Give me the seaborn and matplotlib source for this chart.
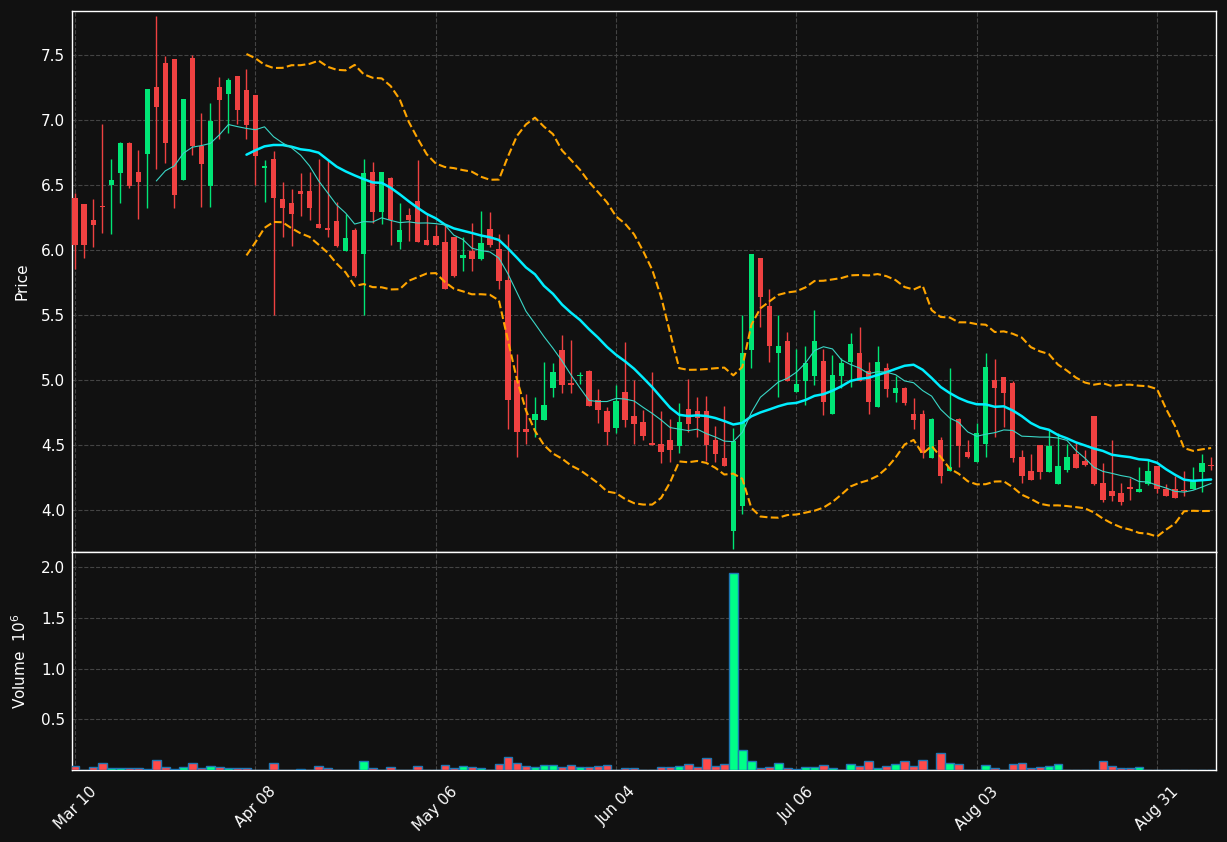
import numpy as np
import pandas as pd
import matplotlib
matplotlib.use('Agg')
import matplotlib.pyplot as plt
import seaborn as sns

# OHLC (one trading day per entry)
opens = [6.40, 6.35, 6.23, 6.34, 6.50, 6.59, 6.82, 6.60, 6.74, 7.25,
         7.44, 7.47, 6.54, 7.48, 6.80, 6.49, 7.25, 7.20, 7.34, 7.23,
         7.19, 6.63, 6.70, 6.39, 6.36, 6.45, 6.45, 6.20, 6.16, 6.22,
         5.99, 6.15, 5.97, 6.60, 6.29, 6.55, 6.06, 6.27, 6.38, 6.08,
         6.11, 6.06, 6.10, 5.94, 5.99, 5.93, 6.16, 6.01, 5.77, 5.00,
         4.62, 4.69, 4.69, 4.94, 5.23, 4.97, 5.03, 5.07, 4.85, 4.76,
         4.63, 4.91, 4.72, 4.68, 4.51, 4.51, 4.54, 4.49, 4.78, 4.76,
         4.76, 4.54, 4.40, 3.84, 4.03, 5.23, 5.94, 5.57, 5.21, 5.30,
         4.91, 4.99, 5.03, 5.15, 4.74, 5.03, 5.14, 5.21, 5.07, 4.79,
         5.09, 4.90, 4.94, 4.74, 4.74, 4.40, 4.54, 4.30, 4.70, 4.45,
         4.37, 4.51, 5.00, 5.02, 4.98, 4.41, 4.30, 4.50, 4.29, 4.20,
         4.31, 4.43, 4.38, 4.72, 4.21, 4.15, 4.13, 4.17, 4.14, 4.20,
         4.34, 4.16, 4.16, 4.15, 4.16, 4.29, 4.34]
highs = [6.44, 6.35, 6.39, 6.97, 6.70, 6.83, 6.83, 6.77, 7.24, 7.80,
         7.49, 7.47, 7.16, 7.50, 7.05, 7.13, 7.33, 7.32, 7.34, 7.39,
         7.19, 6.69, 6.76, 6.52, 6.47, 6.59, 6.60, 6.70, 6.69, 6.37,
         6.28, 6.17, 6.70, 6.68, 6.60, 6.56, 6.36, 6.32, 6.69, 6.28,
         6.19, 6.19, 6.10, 6.10, 6.21, 6.30, 6.29, 6.12, 6.12, 5.20,
         4.89, 4.87, 5.14, 5.13, 5.35, 5.31, 5.06, 5.08, 4.93, 4.79,
         4.96, 5.29, 5.00, 4.77, 5.06, 4.76, 4.70, 4.82, 5.01, 4.87,
         4.88, 4.65, 4.80, 4.63, 5.50, 5.97, 5.94, 5.70, 5.50, 5.37,
         5.24, 5.26, 5.54, 5.24, 5.19, 5.17, 5.36, 5.41, 5.14, 5.26,
         5.13, 5.03, 4.95, 4.86, 4.77, 4.71, 4.56, 5.09, 4.71, 4.54,
         4.67, 5.21, 5.16, 5.02, 4.99, 4.46, 4.43, 4.50, 4.62, 4.59,
         4.51, 4.52, 4.46, 4.72, 4.36, 4.54, 4.21, 4.25, 4.33, 4.39,
         4.34, 4.20, 4.26, 4.30, 4.33, 4.43, 4.41]
lows = [5.85, 5.94, 6.02, 6.13, 6.12, 6.36, 6.48, 6.24, 6.32, 6.62,
        6.67, 6.32, 6.54, 6.73, 6.33, 6.33, 6.85, 6.90, 6.97, 6.85,
        6.50, 6.37, 5.50, 6.10, 6.03, 6.26, 6.23, 6.17, 6.10, 6.02,
        5.99, 5.79, 5.50, 6.21, 6.20, 6.04, 6.01, 6.07, 6.06, 6.04,
        6.04, 5.70, 5.79, 5.84, 5.84, 5.92, 6.02, 5.70, 4.62, 4.41,
        4.51, 4.56, 4.69, 4.87, 4.90, 4.90, 4.97, 4.80, 4.67, 4.50,
        4.59, 4.64, 4.51, 4.54, 4.50, 4.36, 4.37, 4.44, 4.60, 4.56,
        4.38, 4.37, 4.34, 3.70, 3.97, 5.09, 5.41, 5.14, 4.87, 4.99,
        4.91, 4.81, 4.96, 4.73, 4.74, 4.94, 4.95, 4.99, 4.74, 4.79,
        4.87, 4.83, 4.81, 4.62, 4.40, 4.40, 4.21, 4.30, 4.33, 4.40,
        4.37, 4.41, 4.56, 4.64, 4.37, 4.21, 4.23, 4.24, 4.29, 4.20,
        4.29, 4.32, 4.34, 4.19, 4.06, 4.07, 4.04, 4.08, 4.14, 4.19,
        4.13, 4.11, 4.09, 4.11, 4.16, 4.14, 4.31]
closes = [6.04, 6.04, 6.19, 6.33, 6.54, 6.82, 6.49, 6.52, 7.24, 7.10,
          6.82, 6.42, 7.16, 6.80, 6.66, 6.99, 7.15, 7.31, 7.08, 6.96,
          6.72, 6.645, 6.40, 6.32, 6.28, 6.43, 6.32, 6.17, 6.155, 6.03,
          6.09, 5.80, 6.59, 6.29, 6.60, 6.23, 6.15, 6.23, 6.06, 6.04,
          6.04, 5.70, 5.80, 5.96, 5.93, 6.05, 6.04, 5.76, 4.85, 4.60,
          4.60, 4.74, 4.81, 5.06, 4.96, 4.965, 5.04, 4.80, 4.77, 4.60,
          4.84, 4.69, 4.66, 4.57, 4.50, 4.45, 4.46, 4.68, 4.66, 4.71,
          4.50, 4.43, 4.34, 4.53, 5.21, 5.97, 5.64, 5.26, 5.26, 4.99,
          4.97, 5.13, 5.30, 4.83, 5.04, 5.13, 5.28, 4.99, 4.83, 5.14,
          4.93, 4.94, 4.82, 4.69, 4.44, 4.70, 4.26, 4.33, 4.49, 4.41,
          4.59, 5.10, 4.94, 4.90, 4.40, 4.26, 4.23, 4.29, 4.49, 4.34,
          4.41, 4.32, 4.35, 4.20, 4.08, 4.11, 4.06, 4.165, 4.16, 4.30,
          4.16, 4.11, 4.09, 4.145, 4.22, 4.36, 4.335]
# volume in millions
volumes = [0.036, 0.004, 0.026, 0.066, 0.023, 0.023, 0.016, 0.016, 0.013, 0.095,
           0.026, 0.013, 0.026, 0.066, 0.023, 0.036, 0.026, 0.016, 0.016, 0.016,
           0.004, 0.004, 0.066, 0.003, 0.004, 0.007, 0.004, 0.036, 0.016, 0.004,
           0.003, 0.004, 0.086, 0.016, 0.004, 0.026, 0.004, 0.004, 0.036, 0.004,
           0.004, 0.046, 0.016, 0.036, 0.026, 0.016, 0.004, 0.056, 0.125, 0.066,
           0.036, 0.026, 0.046, 0.046, 0.026, 0.046, 0.026, 0.026, 0.036, 0.046,
           0.004, 0.016, 0.016, 0.004, 0.004, 0.026, 0.026, 0.036, 0.056, 0.026,
           0.115, 0.036, 0.056, 1.94, 0.194, 0.086, 0.016, 0.026, 0.066, 0.016,
           0.006, 0.026, 0.026, 0.046, 0.016, 0.004, 0.056, 0.036, 0.086, 0.016,
           0.036, 0.056, 0.086, 0.036, 0.095, 0.005, 0.164, 0.066, 0.056, 0.004,
           0.004, 0.046, 0.016, 0.004, 0.056, 0.066, 0.016, 0.026, 0.036, 0.056,
           0.004, 0.004, 0.004, 0.004, 0.086, 0.036, 0.016, 0.016, 0.026, 0.004,
           0.004, 0.004, 0.004, 0.0, 0.004, 0.004, 0.004]
tick_labels = ['Mar 10', 'Apr 08', 'May 06', 'Jun 04', 'Jul 06', 'Aug 03', 'Aug 31']

df = pd.DataFrame({'open': opens, 'high': highs, 'low': lows,
                   'close': closes, 'volume': volumes})
df['idx'] = np.arange(len(df))
df['ma10'] = df['close'].rolling(10).mean()
df['ma20'] = df['close'].rolling(20).mean()
std20 = df['close'].rolling(20).std(ddof=0)
df['bb_up'] = df['ma20'] + 2 * std20
df['bb_lo'] = df['ma20'] - 2 * std20

BG = '#111111'
UP = '#00e676'
DOWN = '#ef4141'
sns.set_theme(style='dark', rc={'figure.facecolor': BG, 'axes.facecolor': BG,
                                'axes.edgecolor': 'white', 'text.color': 'white',
                                'axes.labelcolor': 'white', 'xtick.color': 'white',
                                'ytick.color': 'white'})
plt.rcParams['font.family'] = ['DejaVu Sans']

fig = plt.figure(figsize=(12.27, 8.42), dpi=100)
ax = fig.add_axes([0.0587, 0.3444, 0.9324, 0.6425])
axv = fig.add_axes([0.0587, 0.0855, 0.9324, 0.2589], sharex=ax)

up = df['close'] >= df['open']
colors = np.where(up, UP, DOWN)

# candles
ax.vlines(df['idx'], df['low'], df['high'], colors=colors, linewidth=1, zorder=2)
body_lo = df[['open', 'close']].min(axis=1)
body_h = (df['close'] - df['open']).abs().clip(lower=0.012)
ax.bar(df['idx'], body_h, bottom=body_lo, width=0.6, color=colors, linewidth=0, zorder=3)

# moving averages and bands
sns.lineplot(data=df, x='idx', y='ma20', ax=ax, color='#00eeff', linewidth=1.8, zorder=4)
sns.lineplot(data=df, x='idx', y='ma10', ax=ax, color='#3ad6c6', linewidth=0.8, zorder=4)
sns.lineplot(data=df, x='idx', y='bb_up', ax=ax, color='#ffa500', linewidth=1.5,
             linestyle='--', zorder=4)
sns.lineplot(data=df, x='idx', y='bb_lo', ax=ax, color='#ffa500', linewidth=1.5,
             linestyle='--', zorder=4)

# volume
vcolors = np.where(up, '#00ff88', '#ff4a4a')
axv.bar(df['idx'], df['volume'], width=0.95, color=vcolors, edgecolor='#1f77b4',
        linewidth=1, zorder=3)

ax.set_xlim(-0.35, 126.55)
ax.set_ylim(3.677, 7.838)
ax.set_yticks(np.arange(4.0, 7.51, 0.5))
ax.set_ylabel('Price', fontsize=11)
ax.set_xlabel('')
ax.tick_params(axis='x', length=0, labelbottom=False)
ax.tick_params(axis='y', labelsize=11, length=3, pad=2)

axv.set_ylim(0, 2.15)
axv.set_yticks([0.5, 1.0, 1.5, 2.0])
axv.set_ylabel('Volume  $10^6$', fontsize=11)
xt = np.arange(0, 121, 20)
axv.set_xticks(xt)
axv.set_xticklabels(tick_labels, rotation=45, ha='center', fontsize=11)
axv.tick_params(axis='x', length=4, pad=6)
axv.tick_params(axis='y', labelsize=11, length=3, pad=2)

ax.yaxis.set_label_coords(-0.0375, 0.5)
axv.yaxis.set_label_coords(-0.0375, 0.5)

for a in (ax, axv):
    a.grid(True, color='#444444', linestyle='--', linewidth=0.8)
    a.set_axisbelow(True)
    for s in a.spines.values():
        s.set_color('white')
        s.set_linewidth(1)

fig.savefig('out.png', dpi=100, facecolor=BG)
